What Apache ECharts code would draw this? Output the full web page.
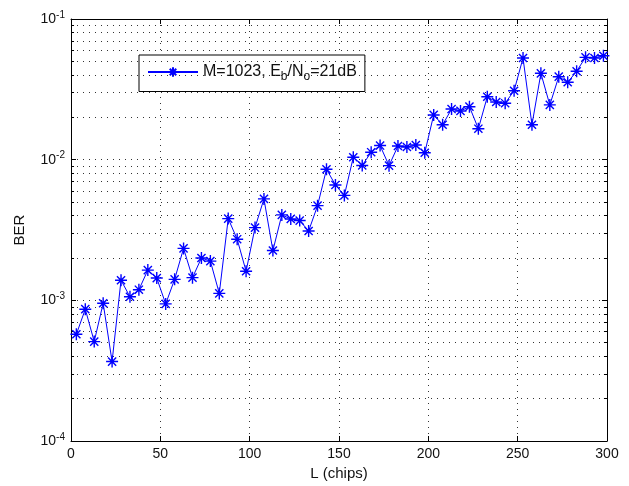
<!DOCTYPE html>
<html>
<head>
<meta charset="utf-8">
<script src="https://cdn.jsdelivr.net/npm/echarts@6/dist/echarts.min.js"></script>
<style>
html,body{margin:0;padding:0;background:#fff;}
#chart{width:629px;height:486px;}
</style>
</head>
<body>
<div id="chart"></div>
<script>
// ---- data ----
const chipLengths = [3,8,13,18,23,28,33,38,43,48,53,58,63,68,73,78,83,88,93,98,
  103,108,113,118,123,128,133,138,143,148,153,158,163,168,173,178,183,188,193,198,
  203,208,213,218,223,228,233,238,243,248,253,258,263,268,273,278,283,288,293,298];
const berValues = [5.74e-4,8.65e-4,5.09e-4,9.54e-4,3.67e-4,1.39e-3,1.06e-3,1.19e-3,1.64e-3,1.44e-3,
  9.43e-4,1.41e-3,2.34e-3,1.45e-3,2.0e-3,1.9e-3,1.12e-3,3.81e-3,2.72e-3,1.61e-3,
  3.29e-3,5.26e-3,2.26e-3,4.05e-3,3.79e-3,3.69e-3,3.11e-3,4.71e-3,8.55e-3,6.61e-3,
  5.57e-3,1.04e-2,9.1e-3,1.13e-2,1.26e-2,9.07e-3,1.25e-2,1.23e-2,1.27e-2,1.12e-2,
  2.08e-2,1.77e-2,2.29e-2,2.22e-2,2.38e-2,1.66e-2,2.8e-2,2.57e-2,2.52e-2,3.09e-2,
  5.28e-2,1.77e-2,4.11e-2,2.45e-2,3.89e-2,3.55e-2,4.25e-2,5.34e-2,5.28e-2,5.48e-2];
const seriesName = 'M=1023, Eb/No=21dB';
const xTickValues = [0,50,100,150,200,250,300];
const yDecadeExponents = [-4,-3,-2,-1];
const minorMultipliers = [2,3,4,5,6,7,8,9];
const xAxisTitle = 'L (chips)';
const yAxisTitle = 'BER';

// ---- build ----
const points = chipLengths.map((x, i) => [x, berValues[i]]);
const minorGrid = [];
for (let k = 0; k < yDecadeExponents.length - 1; k++) {
  const base = Math.pow(10, yDecadeExponents[k]);
  minorMultipliers.forEach(m => minorGrid.push(m * base));
}
const gridLineStyle = {color: '#333', type: [1, 5], width: 1};

const asterisk = 'path://M5 0 L5 10 M0 5 L10 5 M1.6 1.6 L8.4 8.4 M1.6 8.4 L8.4 1.6';
const font = 'Liberation Sans, Arial, sans-serif';
const textColor = '#111';

const chart = echarts.init(document.getElementById('chart'), null, {renderer: 'canvas'});
chart.setOption({
  animation: false,
  backgroundColor: '#fff',
  grid: {left: 71, right: 22, top: 19, bottom: 45},
  legend: {
    left: 139, top: 55,
    orient: 'horizontal',
    itemWidth: 50, itemHeight: 12, itemGap: 4,
    padding: [9, 8, 9, 8],
    borderColor: '#000', borderWidth: 1, backgroundColor: '#fff',
    data: [seriesName],
    formatter: () => '{a|M=1023, E}{s|b}{a|/N}{s|o}{a|=21dB}',
    textStyle: {
      fontFamily: font, color: textColor, fontSize: 16,
      rich: {
        a: {fontFamily: font, fontSize: 16, color: textColor},
        s: {fontFamily: font, fontSize: 12, color: textColor, verticalAlign: 'bottom', padding: [9, 0, 0, 0]}
      }
    }
  },
  xAxis: [{
    type: 'value', min: 0, max: 300, interval: 50,
    position: 'bottom',
    name: xAxisTitle, nameLocation: 'middle', nameGap: 17,
    nameTextStyle: {fontFamily: font, fontSize: 15, color: textColor},
    axisLine: {show: true, onZero: false, lineStyle: {color: '#000', width: 1}},
    axisTick: {show: true, inside: true, length: 5, lineStyle: {color: '#000'}},
    axisLabel: {fontFamily: font, fontSize: 14, color: textColor, margin: 6,
      customValues: xTickValues},
    splitLine: {show: true, lineStyle: gridLineStyle}
  }, {
    type: 'value', min: 0, max: 300, interval: 50,
    position: 'top',
    axisLine: {show: true, onZero: false, lineStyle: {color: '#000', width: 1}},
    axisTick: {show: true, inside: true, length: 5, lineStyle: {color: '#000'}},
    axisLabel: {show: false},
    splitLine: {show: false}
  }],
  yAxis: [{
    type: 'log', logBase: 10, min: 1e-4, max: 1e-1,
    position: 'left',
    name: yAxisTitle, nameLocation: 'middle', nameGap: 44, nameRotate: 90,
    nameTextStyle: {fontFamily: font, fontSize: 15, color: textColor},
    axisLine: {show: true, onZero: false, lineStyle: {color: '#000', width: 1}},
    axisTick: {show: true, inside: true, length: 5, lineStyle: {color: '#000'}},
    axisLabel: {
      margin: 6,
      formatter: v => {
        const e = Math.round(Math.log10(v));
        return '{b|10}{s|' + e + '}';
      },
      rich: {
        b: {fontFamily: font, fontSize: 14, color: textColor},
        s: {fontFamily: font, fontSize: 10, color: textColor, verticalAlign: 'top', padding: [0, 0, 8, 0]}
      }
    },
    splitLine: {show: true, lineStyle: gridLineStyle}
  }, {
    type: 'log', logBase: 10, min: 1e-4, max: 1e-1,
    position: 'right',
    axisLine: {show: true, onZero: false, lineStyle: {color: '#000', width: 1}},
    axisTick: {show: true, inside: true, length: 5, lineStyle: {color: '#000'}},
    axisLabel: {show: false},
    splitLine: {show: false}
  }],
  series: [{
    name: seriesName,
    type: 'line',
    data: points,
    xAxisIndex: 0, yAxisIndex: 0,
    symbol: asterisk,
    symbolSize: 12,
    showSymbol: true,
    color: '#0000ff',
    lineStyle: {color: '#0000ff', width: 1},
    itemStyle: {color: '#0000ff', borderColor: '#0000ff', borderWidth: 1.4},
    emphasis: {disabled: true},
    z: 5,
    markLine: {
      silent: true,
      symbol: 'none',
      precision: 12,
      label: {show: false},
      animation: false,
      lineStyle: gridLineStyle,
      data: minorGrid.map(v => ({yAxis: v}))
    }
  }, {
    type: 'line',
    data: [],
    xAxisIndex: 0, yAxisIndex: 0,
    markLine: {
      silent: true, symbol: 'none', precision: 12, label: {show: false}, animation: false,
      lineStyle: {color: '#000', type: 'solid', width: 1},
      data: minorGrid.flatMap(v => [
        [{coord: [0, v]}, {coord: [1.7, v]}],
        [{coord: [298.3, v]}, {coord: [300, v]}]
      ])
    }
  }]
});
</script>
</body>
</html>
